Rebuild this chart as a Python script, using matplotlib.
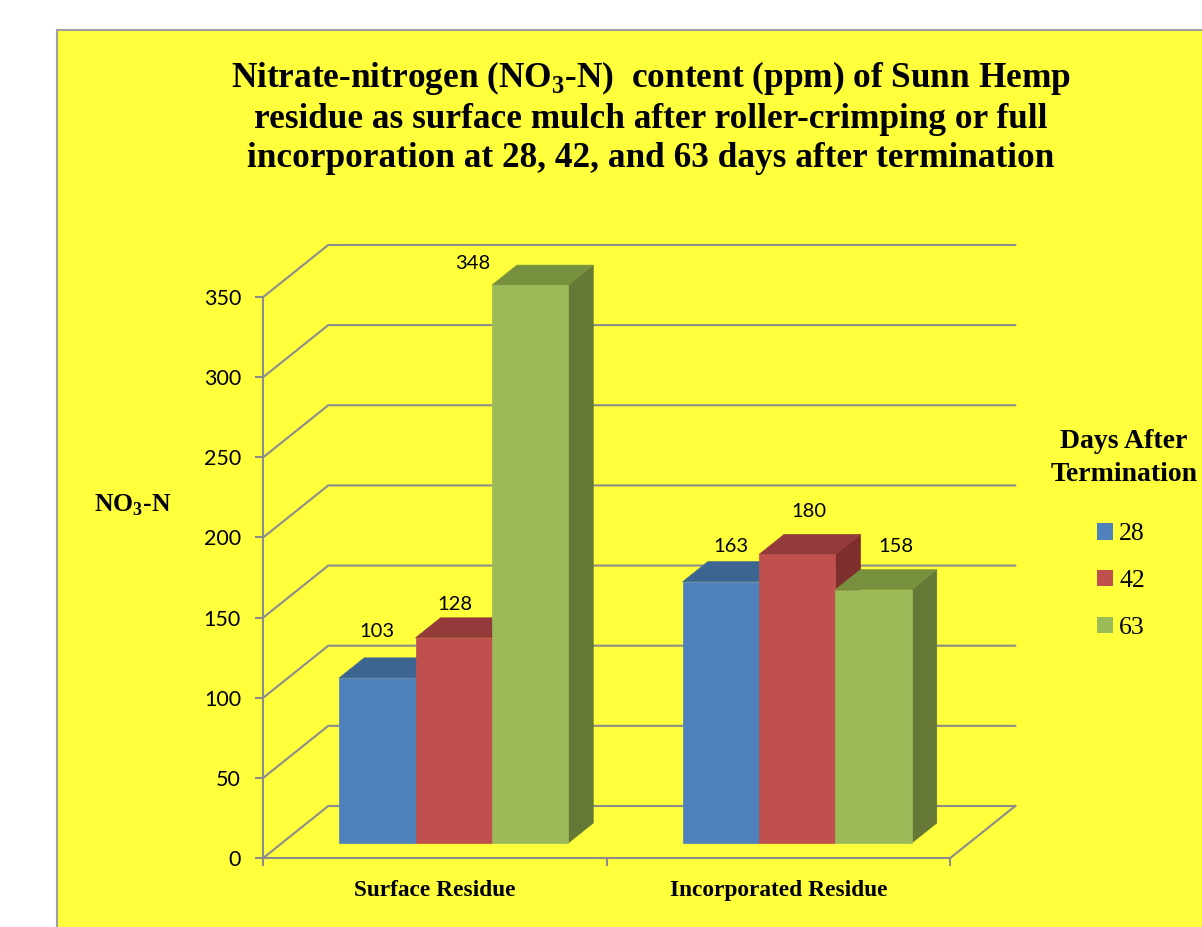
import matplotlib.pyplot as plt
from matplotlib.patches import Polygon, Rectangle, Patch

# data
categories = ['Surface Residue', 'Incorporated Residue']
days = ['28', '42', '63']
day28 = [103, 163]
day42 = [128, 180]
day63 = [348, 158]
y_ticks = [0, 50, 100, 150, 200, 250, 300, 350]

# colours: front, top, side
fronts = ['#4F81BD', '#C0504D', '#9BBB59']
tops = ['#3D6592', '#933A3A', '#77913F']
sides = ['#355A88', '#7E2E2D', '#657836']
# data-label offsets in pixels (Excel puts them oddly in 3D)
label_off = [[(0, 46), (10, 35)], [(1, 33), (12, 43)], [(-57, 22), (22, 43)]]

plt.rcParams['mathtext.fontset'] = 'custom'
plt.rcParams['mathtext.rm'] = 'Liberation Serif'
plt.rcParams['mathtext.bf'] = 'Liberation Serif:bold'

W, H = 1202, 927
fig = plt.figure(figsize=(W / 100, H / 100), dpi=100, facecolor='white')

# yellow chart area with grey border
fig.patches.append(Rectangle((57 / W, -0.01), 1.0, 1 - 30 / H + 0.01, transform=fig.transFigure,
                             facecolor='#FFFF3B', edgecolor='#A0A0A0', lw=1.5, zorder=-5))

# scale: value units in y, category units in x
px_val = 1.603
px_cat = 343.5
ax = fig.add_axes([0, 0, 1, 1])
ax.set_zorder(2)
ax.set_xlim(-435 / px_cat, (W - 435) / px_cat)
ax.set_ylim((858 - H) / px_val, 858 / px_val)
ax.patch.set_alpha(0)

DX = 65 / px_cat
DY = 52 / px_val
f0, f1 = 0.288, 0.673
grid_c = '#8C8C8C'

# back wall + left wall grid
for v in y_ticks:
    ax.plot([-0.5, -0.5 + DX, 1.5 + DX], [v, v + DY, v + DY], color=grid_c, lw=1.5, zorder=1)
ax.plot([1.5, 1.5 + DX], [0, DY], color=grid_c, lw=1.5, zorder=1)

# axes spines as the front edges
for s in ['top', 'right']:
    ax.spines[s].set_visible(False)
ax.spines['left'].set_position(('data', -0.5))
ax.spines['left'].set_bounds(0, 350)
ax.spines['bottom'].set_position(('data', 0))
ax.spines['bottom'].set_bounds(-0.5, 1.5)
for s in ['left', 'bottom']:
    ax.spines[s].set_color(grid_c)
    ax.spines[s].set_linewidth(1.5)
ax.set_yticks(y_ticks)
ax.set_yticklabels([str(t) for t in y_ticks], fontsize=15.5, family='Lato')
ax.tick_params(axis='y', length=6, width=1.5, color=grid_c, pad=10)
ax.set_xticks([-0.5, 0.5, 1.5])
ax.set_xticklabels([])
ax.set_xticks([0, 1], minor=True)
ax.set_xticklabels(categories, minor=True, fontsize=16.8, family='Liberation Serif', fontweight='bold')
ax.tick_params(axis='x', which='major', length=6, width=1.5, color=grid_c)
ax.tick_params(axis='x', which='minor', length=0, pad=16)

# 3D-looking bars
series = [day28, day42, day63]
bw = 0.2222
ox0, oy0 = f0 * DX, f0 * DY
ox1, oy1 = f1 * DX, f1 * DY
for i in range(len(categories)):
    for j, vals in enumerate(series):
        v = vals[i]
        x = i - 1.5 * bw + j * bw
        side = [(x + bw + ox0, oy0), (x + bw + ox1, oy1), (x + bw + ox1, v + oy1), (x + bw + ox0, v + oy0)]
        top = [(x + ox0, v + oy0), (x + bw + ox0, v + oy0), (x + bw + ox1, v + oy1), (x + ox1, v + oy1)]
        front = [(x + ox0, oy0), (x + bw + ox0, oy0), (x + bw + ox0, v + oy0), (x + ox0, v + oy0)]
        ax.add_patch(Polygon(side, closed=True, facecolor=sides[j], edgecolor=sides[j], lw=0.5, zorder=2))
        ax.add_patch(Polygon(top, closed=True, facecolor=tops[j], edgecolor=tops[j], lw=0.5, zorder=2))
        ax.add_patch(Polygon(front, closed=True, facecolor=fronts[j], edgecolor=fronts[j], lw=0.5, zorder=2))
        ax.annotate(str(v), xy=(x + bw / 2 + ox0, v + oy0), xytext=label_off[j][i],
                    textcoords='offset pixels', ha='center', va='center', fontsize=14.5, family='Lato', zorder=5)

# y axis title
fig.text(133 / W, 1 - 505 / H, r'NO$_\mathbf{3}$-N', ha='center', va='center', fontsize=18.5,
         family='Liberation Serif', fontweight='bold')

# chart title
title = ('Nitrate-nitrogen (NO$_\\mathbf{3}$-N)  content (ppm) of Sunn Hemp\n'
         'residue as surface mulch after roller-crimping or full\n'
         'incorporation at 28, 42, and 63 days after termination')
fig.text(651 / W, 1 - 117 / H, title, ha='center', va='center', fontsize=25.4,
         family='Liberation Serif', fontweight='bold', linespacing=1.25)

# legend
fig.text(1124 / W, 1 - 458 / H, 'Days After\nTermination', ha='center', va='center', fontsize=20,
         family='Liberation Serif', fontweight='bold', linespacing=1.45, multialignment='center')
handles = [Patch(facecolor=c) for c in fronts]
ax.legend(handles, days, loc='center',
          bbox_to_anchor=(1121 / W, 1 - 581 / H), bbox_transform=fig.transFigure, frameon=False,
          prop={'family': 'Liberation Serif', 'size': 18.5},
          handlelength=0.6, handleheight=0.6, handletextpad=0.25, labelspacing=0.95)

fig.savefig('out.png', dpi=100, facecolor='white')
